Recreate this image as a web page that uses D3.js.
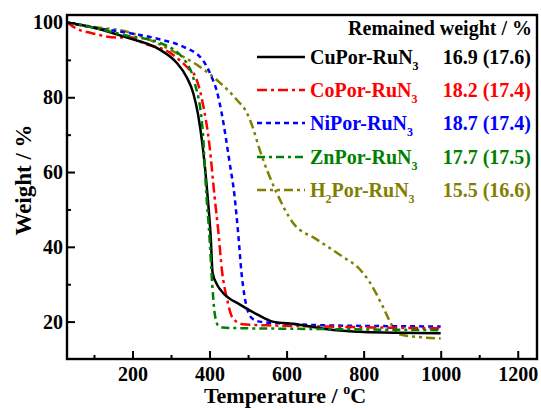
<!DOCTYPE html>
<html><head><meta charset="utf-8">
<script src="https://cdn.jsdelivr.net/npm/d3@7/dist/d3.min.js"></script>
<style>
body{margin:0;background:#fff}
text{font-family:"Liberation Serif","Times New Roman",serif;font-weight:bold}
</style>
</head><body>
<svg id="c" width="541" height="409"></svg>
<script>
// ---- data ----
const xTicks = [200, 400, 600, 800, 1000, 1200];
const xMinor = [100, 300, 500, 700, 900, 1100];
const yTicks = [20, 40, 60, 80, 100];
const yMinor = [30, 50, 70, 90];

const seriesNames = ["CuPor-RuN", "CoPor-RuN", "NiPor-RuN", "ZnPor-RuN", "H2Por-RuN"];
const remainedLabels = ["16.9 (17.6)", "18.2 (17.4)", "18.7 (17.4)", "17.7 (17.5)", "15.5 (16.6)"];

const cuT = [30, 100, 184, 270, 314, 340, 358, 370, 382, 395, 403, 408, 420, 434, 478, 522, 564, 626, 700, 800, 900, 1000];
const cuW = [100, 98.6, 96, 92.8, 89.3, 85.5, 81, 75.5, 67, 53.5, 42.8, 33, 29.8, 27.8, 24.6, 22, 20, 19.3, 18, 17.2, 17.0, 16.9];

const coT = [30, 62, 88, 158, 200, 226, 296, 348, 361, 382, 400, 413, 423, 433, 444, 460, 486, 550, 700, 850, 1000];
const coW = [100, 98, 97.3, 96, 96, 94.6, 92, 87.4, 86, 78.6, 67, 53.5, 43.9, 33, 26.7, 21, 19.3, 19.0, 18.7, 18.4, 18.2];

const niT = [30, 100, 184, 270, 330, 382, 408, 418, 431, 452, 465, 475, 483, 491, 509, 530, 590, 700, 850, 1000];
const niW = [100, 98.6, 97.3, 95.5, 93.6, 90, 84.8, 82, 76, 62.6, 53.5, 42.8, 33, 26.7, 21, 20, 19.5, 19.0, 18.8, 18.7];

const znT = [30, 100, 184, 270, 340, 361, 382, 392, 399, 407, 413, 422, 435, 500, 600, 800, 1000];
const znW = [100, 98.6, 96.5, 94.6, 89.3, 84, 71.4, 53.5, 44, 30, 22.5, 19, 18.4, 18.2, 18.1, 17.9, 17.7];

const h2T = [30, 100, 184, 252, 322, 374, 426, 470, 496, 512, 530, 574, 616, 678, 745, 790, 816, 850, 875, 893, 950, 1000];
const h2W = [100, 98.8, 97.6, 95, 91.4, 88.2, 84, 79.4, 76, 72, 66, 54.5, 46.5, 42, 37.4, 34, 30.5, 24, 18.7, 16.6, 15.8, 15.5];

const colors = ["#000000", "#ff0000", "#0000ff", "#008000", "#808000"];
const dashes = [null, "10,4,3,4", "5,4", "8,4,3,4", "9,4,3,4,3,4"];

// ---- chart ----
const svg = d3.select("#c");
const L = 67, R = 537, T = 15, B = 359;
const x = d3.scaleLinear().domain([30, 1250]).range([L, R]);
const y = d3.scaleLinear().domain([10, 102]).range([B, T]);

const series = [
  {t: cuT, w: cuW}, {t: coT, w: coW}, {t: niT, w: niW}, {t: znT, w: znW}, {t: h2T, w: h2W}
];

const line = d3.line().x(d => x(d[0])).y(d => y(d[1])).curve(d3.curveMonotoneX);

// curves
const drawOrder = [4, 2, 1, 0, 3];
drawOrder.forEach(i => {
  const s = series[i];
  const pts = s.t.map((t, k) => [t, s.w[k]]);
  svg.append("path").attr("d", line(pts))
    .attr("fill", "none").attr("stroke", colors[i]).attr("stroke-width", 2.5)
    .attr("stroke-dasharray", dashes[i]);
});

// axes
const gx = svg.append("g").attr("transform", `translate(0,${B})`)
  .call(d3.axisBottom(x).tickValues(xTicks).tickSize(-8).tickSizeOuter(0).tickPadding(8).tickFormat(d3.format("d")));
svg.append("g").attr("transform", `translate(0,${B})`)
  .call(d3.axisBottom(x).tickValues(xMinor).tickSize(-4).tickSizeOuter(0).tickFormat(""));
const gy = svg.append("g").attr("transform", `translate(${L},0)`)
  .call(d3.axisLeft(y).tickValues(yTicks).tickSize(-8).tickSizeOuter(0).tickPadding(4).tickFormat(d3.format("d")));
svg.append("g").attr("transform", `translate(${L},0)`)
  .call(d3.axisLeft(y).tickValues(yMinor).tickSize(-4).tickSizeOuter(0).tickFormat(""));
svg.selectAll(".domain").remove();
svg.selectAll(".tick line").attr("stroke", "#000").attr("stroke-width", 2);
[gx, gy].forEach(g => g.selectAll("text").attr("font-size", 20).attr("fill", "#000")
  .style("font-family", '"Liberation Serif",serif').style("font-weight", "bold"));

// frame
svg.append("rect").attr("x", L).attr("y", T).attr("width", R - L).attr("height", B - T)
  .attr("fill", "none").attr("stroke", "#000").attr("stroke-width", 2.4);

// axis titles
const xt = svg.append("text").attr("x", 285).attr("y", 403).attr("text-anchor", "middle")
  .attr("font-size", 22).attr("fill", "#000");
xt.append("tspan").text("Temperature / ");
xt.append("tspan").attr("font-size", 14).attr("dy", -9).text("o");
xt.append("tspan").attr("dy", 9).text("C");

svg.append("text").attr("transform", "translate(31,180) rotate(-90)")
  .attr("text-anchor", "middle").attr("font-size", 23).attr("fill", "#000")
  .text("Weight / %");

// legend
svg.append("text").attr("x", 532).attr("y", 35).attr("text-anchor", "end")
  .attr("font-size", 20).attr("fill", "#000").text("Remained weight / %");

const rowY = [57, 90, 123, 157, 190];
seriesNames.forEach((name, i) => {
  const cy = rowY[i];
  svg.append("line").attr("x1", 257).attr("x2", 305).attr("y1", cy).attr("y2", cy)
    .attr("stroke", colors[i]).attr("stroke-width", 2.5).attr("stroke-dasharray", dashes[i]);
  const t = svg.append("text").attr("x", 310).attr("y", cy + 7).attr("font-size", 20).attr("fill", colors[i]);
  if (name.startsWith("H2")) {
    t.append("tspan").text("H");
    t.append("tspan").attr("font-size", 12).attr("dy", 6).text("2");
    t.append("tspan").attr("dy", -6).text(name.slice(2));
  } else {
    t.append("tspan").text(name);
  }
  t.append("tspan").attr("font-size", 12).attr("dy", 6).text("3");
  svg.append("text").attr("x", 531).attr("y", cy + 7).attr("text-anchor", "end")
    .attr("font-size", 20).attr("fill", colors[i]).text(remainedLabels[i]);
});
</script>
</body></html>
